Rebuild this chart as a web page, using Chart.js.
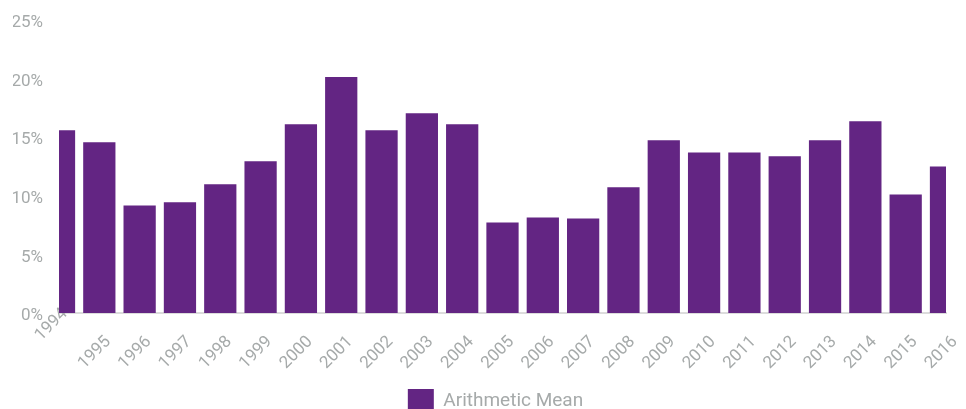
<!DOCTYPE html>
<html>
<head>
<meta charset="utf-8">
<script src="https://cdn.jsdelivr.net/npm/chart.js@4/dist/chart.umd.min.js"></script>
<style>
  html, body { margin: 0; padding: 0; background: #fff; overflow: hidden; }
  #wrap { position: relative; width: 966px; height: 430px; }
</style>
</head>
<body>
<div id="wrap"><canvas id="meanChart"></canvas></div>
<script>
const years = ['1994', '1995', '1996', '1997', '1998', '1999', '2000', '2001', '2002', '2003', '2004',
               '2005', '2006', '2007', '2008', '2009', '2010', '2011', '2012', '2013', '2014', '2015', '2016'];
const meanReturns = [15.6, 14.57, 9.18, 9.44, 10.98, 12.94, 16.1, 20.13, 15.6, 17.05, 16.1,
                     7.72, 8.15, 8.07, 10.72, 14.74, 13.7, 13.7, 13.37, 14.74, 16.36, 10.12, 12.51];
const yTicks = [0, 5, 10, 15, 20, 25];

const purple = '#632583';
const grey = '#a6aaaa';

Chart.defaults.font.family = "'Roboto', sans-serif";
Chart.defaults.color = grey;

// small label offsets seen in the original: year labels sit right of the bars,
// 1994 is lifted up over the axis, percent labels sit a touch low
const nudgeLabels = {
    id: 'nudgeLabels',
    afterLayout(chart) {
        chart.legend.left += 6;
        chart.legend.right += 6;
        // let the lifted 1994 label draw above the axis box
        chart.scales.x._computeLabelArea = () => undefined;
    },
    beforeDraw(chart) {
        chart.scales.x.getLabelItems().forEach((item, i) => {
            if (item._nudged) return;
            const t = item.options.translation;
            item.options.translation = i === 0 ? [t[0] + 6, t[1] - 28] : [t[0] + 9, t[1]];
            item._nudged = true;
        });
        chart.scales.y.getLabelItems().forEach(item => {
            if (item._nudged) return;
            const t = item.options.translation;
            item.options.translation = [t[0], t[1] + 3];
            item._nudged = true;
        });
    }
};

const ctx = document.getElementById('meanChart').getContext('2d');
new Chart(ctx, {
    type: 'bar',
    data: {
        labels: years,
        datasets: [{
            label: 'Arithmetic Mean',
            data: meanReturns,
            backgroundColor: purple,
            borderWidth: 0,
            categoryPercentage: 0.8,
            barPercentage: 1.0,
            clip: 0
        }]
    },
    options: {
        responsive: true,
        maintainAspectRatio: false,
        animation: false,
        layout: {
            padding: { left: 13, right: 0, top: 20, bottom: 7 }
        },
        plugins: {
            legend: {
                position: 'bottom',
                labels: {
                    boxWidth: 26,
                    boxHeight: 24,
                    padding: 10,
                    color: grey,
                    font: { size: 19 }
                }
            },
            tooltip: { enabled: false }
        },
        scales: {
            x: {
                offset: false,
                grid: { display: false, drawTicks: false },
                border: { display: true, color: '#dcdcdc', width: 2 },
                ticks: {
                    autoSkip: false,
                    maxRotation: 45,
                    minRotation: 45,
                    padding: 19,
                    font: { size: 17 }
                },
                afterFit: scale => {
                    scale.height = 66;
                    scale.paddingLeft = 0;
                    scale.paddingRight = 20;
                }
            },
            y: {
                min: 0,
                max: 25,
                grid: { display: false, drawTicks: false },
                border: { display: false },
                ticks: {
                    stepSize: 5,
                    padding: 16,
                    font: { size: 17 },
                    callback: value => yTicks.includes(value) ? value + '%' : ''
                },
                afterFit: scale => {
                    scale.width = 46;
                    scale.paddingTop = 0;
                    scale.paddingBottom = 0;
                }
            }
        }
    },
    plugins: [nudgeLabels]
});
</script>
</body>
</html>
